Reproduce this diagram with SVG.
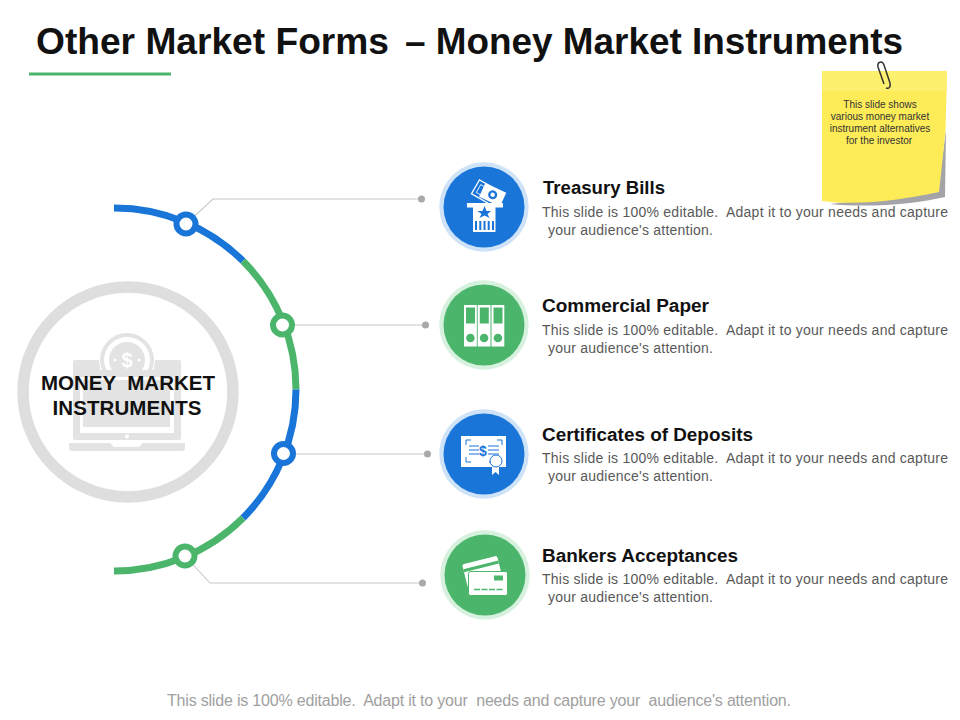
<svg xmlns="http://www.w3.org/2000/svg" width="960" height="720" viewBox="0 0 960 720">
<style>
text{font-family:"Liberation Sans",Arial,sans-serif}
.h{font-size:18.8px;font-weight:bold;fill:#111}
.b{font-size:14px;fill:#595959}
.arc{fill:none;stroke-width:7}
.dot{fill:#fff;stroke-width:6}
.ln{fill:none;stroke:#c8c8c8;stroke-width:1.1}
.e{fill:#a9a9a9}
.ic{fill:#fff}
.g{fill:#e3e3e3}
.blue{fill:#1a75d8}.green{fill:#4cb56c}
.n{font-size:10px;fill:#333;text-anchor:middle}
</style>
<rect width="960" height="720" fill="#fff"/>
<g id="title">
<text x="36" y="54" font-size="36" font-weight="bold" fill="#111"><tspan textLength="353" lengthAdjust="spacingAndGlyphs">Other Market Forms</tspan> <tspan x="405" textLength="498" lengthAdjust="spacingAndGlyphs">– Money Market Instruments</tspan></text>
<rect x="29" y="72.500" width="142" height="3" fill="#4cb56c"/>
</g>
<g id="note">
<path d="M830 204 C870 208 915 204 945 197 L946 130 L938 192 Z" fill="#a3a3a8"/>
<path d="M822 71 H947 L945.500 130 C943 155 941 175 939 192 C900 200 860 206 822 201 Z" fill="#fdeb58"/>
<path d="M822 71 H947 L946.500 91 H822 Z" fill="#fdf06e"/>
<path d="M886 88 C889 89 891 87 890 83 L884 65 C882 60 877 62 878 67 L884 84" fill="none" stroke="#333" stroke-width="1.500"/>
<text class="n" x="880" y="108">This slide shows</text>
<text class="n" x="880" y="120">various money market</text>
<text class="n" x="880" y="132">instrument alternatives</text>
<text class="n" x="879" y="144">for the investor</text>
</g>
<g id="connectors">
<path class="ln" d="M186 224 L213 199 H421"/>
<circle class="e" cx="421.500" cy="199" r="3.500"/>
<path class="ln" d="M283 325 H425"/>
<circle class="e" cx="425.500" cy="325" r="3.500"/>
<path class="ln" d="M284 454 H427"/>
<circle class="e" cx="427.500" cy="454" r="3.500"/>
<path class="ln" d="M185 556 L210 583 H422"/>
<circle class="e" cx="422.500" cy="583" r="3.500"/>
<path class="arc" stroke="#1a75d8" d="M114 208 A182 182 0 0 1 243 261"/>
<path class="arc" stroke="#4cb56c" d="M243 261 A182 182 0 0 1 296 389.500"/>
<path class="arc" stroke="#1a75d8" d="M296 389.500 A182 182 0 0 1 243 518"/>
<path class="arc" stroke="#4cb56c" d="M243 518 A182 182 0 0 1 114 571"/>
</g>
<g id="hub">
<circle cx="128" cy="392" r="105" fill="none" stroke="#dedede" stroke-width="11.500"/>
<g id="hub-icon">
<rect x="73" y="360" width="27" height="20" rx="2" class="g"/><rect x="154" y="360" width="27" height="20" rx="2" class="g"/>
<circle cx="127" cy="360" r="28" fill="#fff"/>
<circle cx="127" cy="360" r="27" class="g"/><circle cx="127" cy="360" r="23" fill="#fff"/><circle cx="127" cy="360" r="18" class="g"/>
<text x="127" y="367" font-size="20" font-weight="bold" fill="#fff" text-anchor="middle">$</text>
<circle cx="115" cy="360" r="1.500" fill="#fff"/><circle cx="139" cy="360" r="1.500" fill="#fff"/>
<rect x="73" y="370" width="108" height="70" rx="2" class="g"/>
<rect x="80" y="377" width="94" height="56" fill="#fff"/>
<rect x="83" y="380" width="87" height="47" class="g"/>
<circle cx="127" cy="436.500" r="2" fill="#fff"/>
<path d="M69 443 H110 L114 447 H139 L143 443 H185 V448 Q185 451 182 451 H72 Q69 451 69 448 Z" class="g"/>
</g>
<text x="41" y="390" font-size="20.500" font-weight="bold" fill="#111" textLength="174" xml:space="preserve">MONEY  MARKET</text>
<text x="52.500" y="415" font-size="20.500" font-weight="bold" fill="#111" textLength="149">INSTRUMENTS</text>
</g>
<g id="dots">
<circle class="dot" stroke="#1a75d8" cx="186" cy="224" r="9.500"/>
<circle class="dot" stroke="#4cb56c" cx="282.500" cy="325" r="9.500"/>
<circle class="dot" stroke="#1a75d8" cx="283.500" cy="453.500" r="9.500"/>
<circle class="dot" stroke="#4cb56c" cx="185" cy="556" r="9.500"/>
</g>
<g id="node-treasury">
<circle cx="484" cy="207" r="44.700" fill="#cfe3f8"/><circle cx="484" cy="207" r="40.500" class="blue"/>
<g transform="rotate(30 484 194)"><rect x="473" y="184" width="23" height="16" fill="#1a75d8" stroke="#fff" stroke-width="1.300"/><rect x="476.500" y="187.500" width="16" height="9" fill="none" stroke="#fff" stroke-width="0.800"/></g>
<g transform="rotate(25 492 195)"><rect x="481" y="187" width="23" height="15" class="ic"/><circle cx="492.500" cy="194.500" r="4.500" class="blue"/><circle cx="492.500" cy="194.500" r="2.200" fill="#fff"/></g>
<rect x="460" y="203" width="50" height="8" class="blue"/>
<rect x="467" y="203" width="36" height="4.500" class="ic"/>
<rect x="473" y="207" width="22.500" height="25" class="ic"/>
<path d="M484.500 206 L486.500 211 L491 211 L487.500 214 L489.500 218 L484.500 215.500 L479.500 218 L481.500 214 L477.500 211 L482.500 211 Z" class="blue"/>
<path d="M476 221 V230 M480.300 221 V230 M484.500 221 V230 M488.700 221 V230 M493 221 V230" stroke="#1a75d8" stroke-width="2"/>
</g>
<g id="node-commercial">
<circle cx="484" cy="325" r="44.700" fill="#d6f1dd"/><circle cx="484" cy="325" r="40.500" class="green"/>
<rect x="464" y="305" width="12.800" height="41.500" class="ic"/><rect x="477.700" y="305" width="12.800" height="41.500" class="ic"/><rect x="491.500" y="305" width="12.800" height="41.500" class="ic"/>
<rect x="466" y="307.500" width="9" height="16" class="green"/><rect x="479.800" y="307.500" width="9" height="16" class="green"/><rect x="493.500" y="307.500" width="9" height="16" class="green"/>
<circle cx="470.400" cy="338" r="4.300" class="green"/><circle cx="484.100" cy="338" r="4.300" class="green"/><circle cx="497.900" cy="338" r="4.300" class="green"/>
</g>
<g id="node-certificates">
<circle cx="484" cy="454" r="44.700" fill="#cfe3f8"/><circle cx="484" cy="454" r="40.500" class="blue"/>
<rect x="461" y="436" width="45" height="31" class="ic"/>
<path d="M466 445 V440 H471 M497 440 H502 V445 M466 457 V462 H471 M497 462 H489" fill="none" stroke="#1a75d8" stroke-width="1"/>
<path d="M469 446 H479 M469 450 H479 M469 454 H479 M488 446 H499 M488 450 H499 M488 454 H499" stroke="#1a75d8" stroke-width="1.200"/>
<text x="483" y="455.500" font-size="14" font-weight="bold" fill="#1a75d8" text-anchor="middle">$</text>
<path d="M492 466 V475 L495.500 472 L499 475 V466 Z" class="ic"/>
<circle cx="496" cy="461" r="6" class="ic" stroke="#1a75d8" stroke-width="1"/>
</g>
<g id="node-bankers">
<circle cx="485" cy="575" r="44.700" fill="#d6f1dd"/><circle cx="485" cy="575" r="40.500" class="green"/>
<g transform="rotate(-14 481 570)"><rect x="464" y="560" width="36" height="24" rx="2" class="ic"/><rect x="464" y="565" width="36" height="3" class="green"/></g>
<rect x="468.500" y="571.500" width="39" height="24" rx="2" class="ic" stroke="#4cb56c" stroke-width="1"/>
<rect x="494" y="575.500" width="9" height="5" class="green"/>
<path d="M474 589.500 H504" stroke="#4cb56c" stroke-width="1.500" stroke-dasharray="6 1.500"/>
</g>
<g id="label-treasury">
<text class="h" x="543" y="194" textLength="122" lengthAdjust="spacingAndGlyphs">Treasury Bills</text>
<text class="b" x="542" y="217" textLength="406" xml:space="preserve">This slide is 100% editable.  Adapt it to your needs and capture</text>
<text class="b" x="548" y="235" textLength="165">your audience's attention.</text>
</g>
<g id="label-commercial">
<text class="h" x="542" y="312" textLength="167" lengthAdjust="spacingAndGlyphs">Commercial Paper</text>
<text class="b" x="542" y="335" textLength="406" xml:space="preserve">This slide is 100% editable.  Adapt it to your needs and capture</text>
<text class="b" x="548" y="353" textLength="165">your audience's attention.</text>
</g>
<g id="label-certificates">
<text class="h" x="542" y="441" textLength="211" lengthAdjust="spacingAndGlyphs">Certificates of Deposits</text>
<text class="b" x="542" y="463" textLength="406" xml:space="preserve">This slide is 100% editable.  Adapt it to your needs and capture</text>
<text class="b" x="548" y="481" textLength="165">your audience's attention.</text>
</g>
<g id="label-bankers">
<text class="h" x="542" y="562" textLength="196" lengthAdjust="spacingAndGlyphs">Bankers Acceptances</text>
<text class="b" x="542" y="584" textLength="406" xml:space="preserve">This slide is 100% editable.  Adapt it to your needs and capture</text>
<text class="b" x="548" y="602" textLength="165">your audience's attention.</text>
</g>
<text id="footer" x="167" y="706" font-size="16" fill="#a0a0a0" textLength="624" xml:space="preserve">This slide is 100% editable.  Adapt it to your  needs and capture your  audience's attention.</text>
</svg>
